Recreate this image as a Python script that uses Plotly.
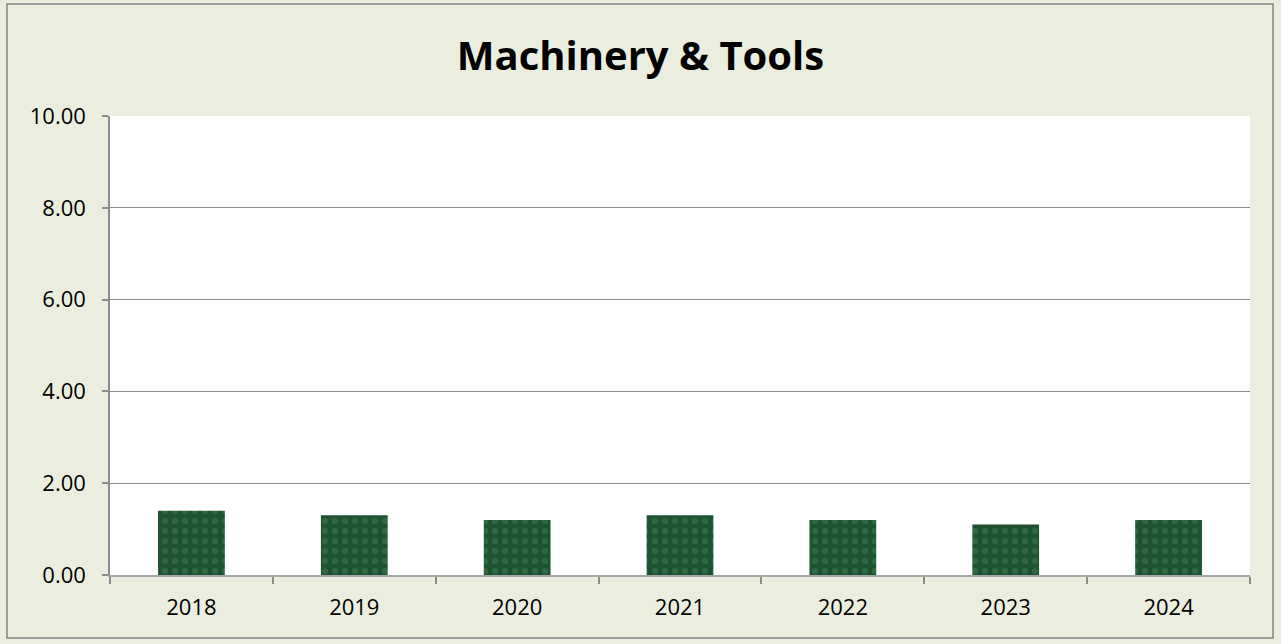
import plotly.graph_objects as go

years = ["2018", "2019", "2020", "2021", "2022", "2023", "2024"]
values = [1.4, 1.3, 1.2, 1.3, 1.2, 1.1, 1.2]
y_ticks = [0, 2, 4, 6, 8, 10]
y_tick_labels = ["0.00", "2.00", "4.00", "6.00", "8.00", "10.00"]

W, H = 1281, 644
ml, mr, mt, mb = 110, 31, 116, 69
pw, ph = W - ml - mr, H - mt - mb

fig = go.Figure()
fig.add_trace(go.Bar(
    x=years, y=values, width=0.41,
    marker=dict(color="#1e5231", line=dict(width=0),
                pattern=dict(shape=".", fgcolor="#3f7d53", size=10, solidity=0.3)),
    hoverinfo="x+y",
))

bx0, bx1 = 7, 1273
by0, by1 = 4, 638
fig.add_shape(type="rect", xref="paper", yref="paper",
              x0=(bx0 - ml) / pw, x1=(bx1 - ml) / pw,
              y0=(H - mb - by1) / ph, y1=(H - mb - by0) / ph,
              line=dict(color="#858585", width=1.5), layer="below")

fig.update_layout(
    width=W, height=H,
    margin=dict(l=ml, r=mr, t=mt, b=mb),
    paper_bgcolor="#ebeedf", plot_bgcolor="#ffffff",
    title=dict(text="<b>Machinery & Tools</b>", x=0.5, xanchor="center",
               y=(H - 56) / H, yanchor="middle",
               font=dict(family="Open Sans", size=40, color="#000000")),
    font=dict(family="Open Sans", size=22, color="#000000"),
    showlegend=False, bargap=0.59,
)
fig.update_xaxes(
    type="category", tickson="boundaries", ticks="outside", ticklen=7,
    tickcolor="#8c8c8c", tickwidth=1.5, showline=True, linecolor="#a6a6a6",
    linewidth=2, showgrid=False, tickfont=dict(size=22), ticklabelstandoff=12,
)
fig.update_yaxes(
    range=[0, 10], tickvals=y_ticks, ticktext=y_tick_labels,
    ticks="outside", ticklen=6, tickcolor="#8c8c8c", tickwidth=1.5,
    showline=True, linecolor="#8c8c8c", linewidth=1.5,
    showgrid=True, gridcolor="#8c8c8c", gridwidth=1, zeroline=False,
    tickfont=dict(size=22), ticklabelstandoff=12,
)

fig.write_html("out.html", config={"displayModeBar": False},
               post_script="document.body.style.margin='0';document.body.style.overflow='hidden';")
